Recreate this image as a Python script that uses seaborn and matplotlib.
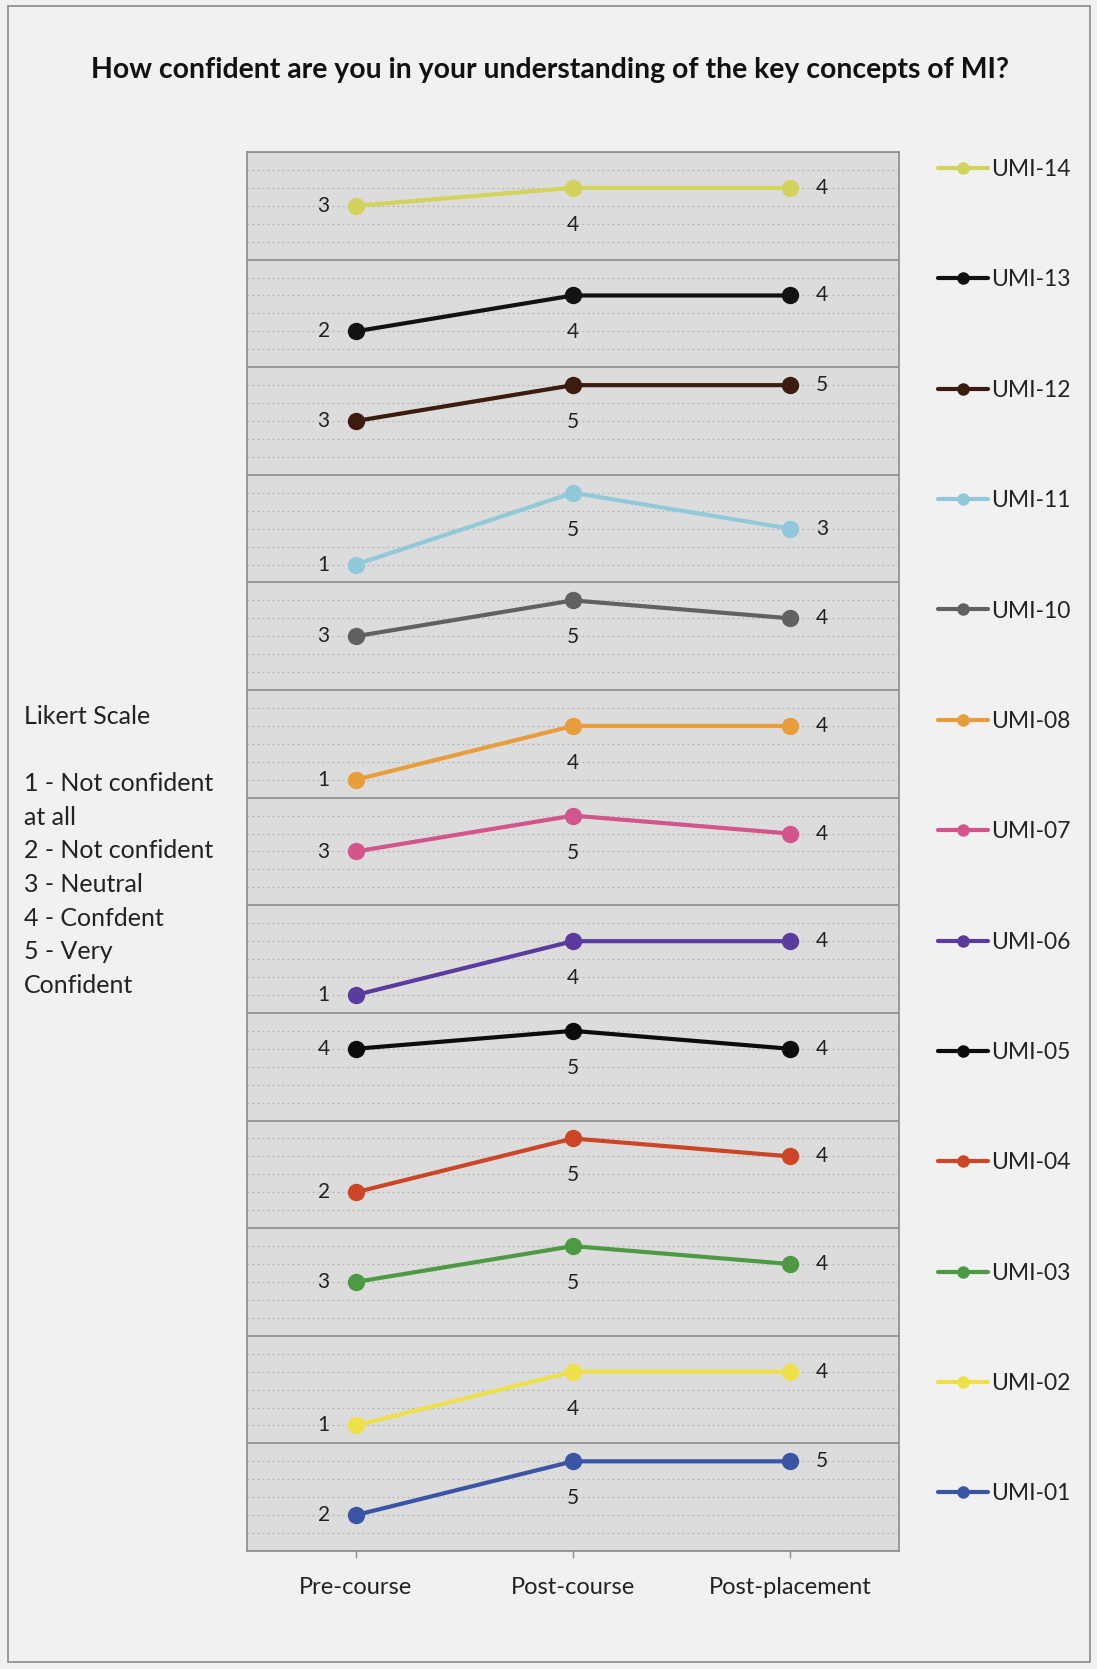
import matplotlib
matplotlib.use("Agg")
import matplotlib.pyplot as plt
import matplotlib.patches as mpatches
from matplotlib.lines import Line2D
from matplotlib.ticker import MultipleLocator
import seaborn as sns
import pandas as pd

# ---------------- data ----------------
stages = ["Pre-course", "Post-course", "Post-placement"]
series = ["UMI-01", "UMI-02", "UMI-03", "UMI-04", "UMI-05", "UMI-06", "UMI-07",
          "UMI-08", "UMI-10", "UMI-11", "UMI-12", "UMI-13", "UMI-14"]
umi01 = [2, 5, 5]
umi02 = [1, 4, 4]
umi03 = [3, 5, 4]
umi04 = [2, 5, 4]
umi05 = [4, 5, 4]
umi06 = [1, 4, 4]
umi07 = [3, 5, 4]
umi08 = [1, 4, 4]
umi10 = [3, 5, 4]
umi11 = [1, 5, 3]
umi12 = [3, 5, 5]
umi13 = [2, 4, 4]
umi14 = [3, 4, 4]
values = [umi01, umi02, umi03, umi04, umi05, umi06, umi07,
          umi08, umi10, umi11, umi12, umi13, umi14]
colors = ["#3a55a4", "#ede04a", "#4e9a44", "#cc4526", "#0c0c0c", "#5b3b9e", "#d2558c",
          "#e89d3c", "#616161", "#92c9da", "#3b1c0e", "#121212", "#d2d25c"]
title = "How confident are you in your understanding of the key concepts of MI?"
likert_lines = ["Likert Scale", "", "1 - Not confident", "at all", "2 - Not confident",
                "3 - Neutral", "4 - Confdent", "5 - Very", "Confident"]

BAND = 6  # each series occupies its own band of 6 units

# ---------------- figure ----------------
sns.set_theme(style="white")
plt.rcParams["font.family"] = ["Lato", "DejaVu Sans"]

W, H = 1097, 1669
fig = plt.figure(figsize=(W / 100, H / 100), dpi=100)
fig.patch.set_facecolor("#f1f1f1")
fig.patches.append(mpatches.Rectangle((8 / W, 0.004), (1090 - 8) / W, 1 - 6 / H - 0.004,
                                      transform=fig.transFigure, fill=False,
                                      edgecolor="#8a8a8a", linewidth=1.2))

L, R, T, B = 247, 899, 152, 1551
ax = fig.add_axes([L / W, 1 - B / H, (R - L) / W, (B - T) / H])
ax.set_facecolor("#dcdcdc")

rows = []
for k, (name, vals) in enumerate(zip(series, values)):
    for i, v in enumerate(vals):
        rows.append({"series": name, "x": i, "y": v + BAND * k, "v": v})
df = pd.DataFrame(rows)
palette = dict(zip(series, colors))

sns.lineplot(data=df, x="x", y="y", hue="series", palette=palette, marker="o",
             markersize=12.5, markeredgewidth=0, linewidth=3.0, legend=False,
             errorbar=None, sort=False, ax=ax, zorder=3)

# data labels
for _, r in df.iterrows():
    if r["x"] == 0:
        off = (-32, 0)
    elif r["x"] == 1:
        off = (0, -37)
    else:
        off = (32, 0)
    ax.annotate(str(int(r["v"])), (r["x"], r["y"]), xytext=off, textcoords="offset pixels",
                ha="center", va="center", fontsize=15, color="#222222")

ax.set_xlim(-0.5, 2.5)
ax.set_ylim(0, BAND * len(series))
ax.yaxis.set_major_locator(MultipleLocator(BAND))
ax.yaxis.set_minor_locator(MultipleLocator(1))
ax.grid(which="major", axis="y", color="#8c8c8c", linewidth=1.2, linestyle="-")
ax.grid(which="minor", axis="y", color="#b4b4b4", linewidth=0.9, linestyle=(0, (1.5, 2.5)))
ax.set_axisbelow(True)
ax.tick_params(axis="y", which="both", left=False, labelleft=False)
ax.set_xticks(range(len(stages)))
ax.set_xticklabels(stages, fontsize=17, color="#222222")
ax.tick_params(axis="x", bottom=True, length=5, width=1, color="#8c8c8c", pad=14)
ax.set_xlabel("")
ax.set_ylabel("")
for s in ax.spines.values():
    s.set_color("#8c8c8c")
    s.set_linewidth(1.2)

# legend (top entry = top band)
handles = [Line2D([0], [0], color=c, marker="o", markersize=9, linewidth=3.0, markeredgewidth=0)
           for c in colors[::-1]]
leg = fig.legend(handles, series[::-1], loc="upper left",
                 bbox_to_anchor=(938 / W, 1 - 159 / H), frameon=False,
                 fontsize=16.5, handlelength=2.2, handletextpad=0.1,
                 labelspacing=3.90, borderpad=0, borderaxespad=0)
for t in leg.get_texts():
    t.set_color("#222222")

# title
fig.text(550 / W, 1 - 70 / H, title, ha="center", va="center", fontsize=20.4,
         fontweight="bold", color="#111111")

# Likert scale note
y0 = 716
for i, line in enumerate(likert_lines):
    fig.text(24 / W, 1 - (y0 + i * 33.7) / H, line, ha="left", va="center",
             fontsize=18, color="#222222")

fig.savefig("out.png", dpi=100, facecolor=fig.get_facecolor())
